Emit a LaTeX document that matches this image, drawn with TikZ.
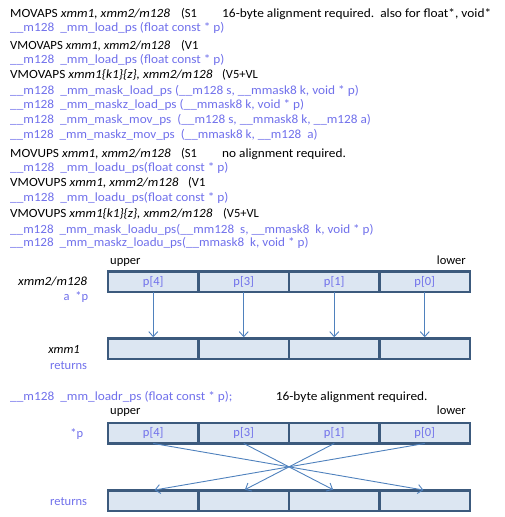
\documentclass[tikz,border=0pt]{standalone}
\usepackage{fontspec}
\usepackage{graphicx}
\setmainfont{Carlito}
\usetikzlibrary{arrows.meta}
\definecolor{codeblue}{RGB}{112,112,235}
\definecolor{cellline}{RGB}{60,90,125}
\definecolor{cellfill}{RGB}{220,230,242}
\definecolor{arrowblue}{RGB}{79,129,189}
\newcommand{\fw}[2]{\resizebox{#1pt}{\height}{#2}}
\begin{document}
\begin{tikzpicture}[x=1pt,y=-1pt,
  txt/.style={anchor=base west, inner sep=0, font=\fontsize{12.5}{14}\selectfont},
  code/.style={txt, text=codeblue},
  rtxt/.style={anchor=base east, inner sep=0, font=\fontsize{12.5}{14}\selectfont},
  rcode/.style={rtxt, text=codeblue},
  cell/.style={draw=cellline, fill=cellfill, line width=2.5pt, minimum width=90.5pt, minimum height=20.5pt, inner sep=0, outer sep=0, text=codeblue, font=\fontsize{12.5}{14}\selectfont},
  arr/.style={draw=arrowblue, line width=0.9pt, -{Straight Barb[length=5pt,width=9pt]}, shorten >=1.3pt}]
\useasboundingbox (0,0) rectangle (504,517);
% header text
\node[txt] (l1) at (10,17.3) {\fw{160}{MOVAPS \textit{xmm1, xmm2/m128}}};
\node[txt] (l1b) at (181,17.3) {(S1};
\node[txt] (l1c) at (222,17.3) {\fw{269}{16-byte alignment required.\ \ also for float*, void*}};
\node[code] (l2) at (10,31) {\fw{214.3}{\_\_m128\ \ \_mm\_load\_ps (float const * p)}};
\node[txt] (l3) at (10,49) {\fw{160}{VMOVAPS \textit{xmm1, xmm2/m128}}};
\node[txt] (l3b) at (181,49) {(V1};
\node[code] (l4) at (10,63.3) {\fw{214.3}{\_\_m128\ \ \_mm\_load\_ps (float const * p)}};
\node[txt] (l5) at (10,78.3) {\fw{202.3}{VMOVAPS \textit{xmm1\{k1\}\{z\}, xmm2/m128}}};
\node[txt] (l5b) at (222,78.3) {(V5+VL};
\node[code] (l6) at (10,94) {\fw{348.7}{\_\_m128\ \ \_mm\_mask\_load\_ps (\_\_m128 s, \_\_mmask8 k, void * p)}};
\node[code] (l7) at (10,108.3) {\fw{294}{\_\_m128\ \ \_mm\_maskz\_load\_ps (\_\_mmask8 k, void * p)}};
\node[code] (l8) at (10,123.3) {\fw{360.7}{\_\_m128\ \ \_mm\_mask\_mov\_ps\ \ (\_\_m128 s, \_\_mmask8 k, \_\_m128 a)}};
\node[code] (l9) at (10,138.3) {\fw{307.3}{\_\_m128\ \ \_mm\_maskz\_mov\_ps\ \ (\_\_mmask8 k, \_\_m128\ \ a)}};
\node[txt] (l10) at (10,157.3) {\fw{160.7}{MOVUPS \textit{xmm1, xmm2/m128}}};
\node[txt] (l10b) at (181,157.3) {(S1};
\node[txt] (l10c) at (222,157.3) {\fw{123.7}{no alignment required.}};
\node[code] (l11) at (10,171.7) {\fw{218.3}{\_\_m128\ \ \_mm\_loadu\_ps(float const * p)}};
\node[txt] (l12) at (10,186.7) {\fw{168.3}{VMOVUPS \textit{xmm1, xmm2/m128}}};
\node[txt] (l12b) at (188,186.7) {(V1};
\node[code] (l13) at (10,201) {\fw{218.3}{\_\_m128\ \ \_mm\_loadu\_ps(float const * p)}};
\node[txt] (l14) at (10,217.7) {\fw{202.3}{VMOVUPS \textit{xmm1\{k1\}\{z\}, xmm2/m128}}};
\node[txt] (l14b) at (223,217.7) {(V5+VL};
\node[code] (l15) at (10,233.3) {\fw{363.3}{\_\_m128\ \ \_mm\_mask\_loadu\_ps(\_\_mm128\ \ s, \_\_mmask8\ \ k, void * p)}};
\node[code] (l16) at (10,246.7) {\fw{298.3}{\_\_m128\ \ \_mm\_maskz\_loadu\_ps(\_\_mmask8\ \ k, void * p)}};
% diagram 1
\node[txt] (up1) at (110,264) {upper};
\node[rtxt] (lo1) at (466,264) {lower};
\node[rtxt] (xm2) at (87.3,285.7) {\fw{69}{\textit{xmm2/m128}}};
\node[rcode] (ap) at (88.3,300.7) {a\ \ *p};
\node[rtxt] (xm1) at (80,353.3) {\textit{xmm1}};
\node[rcode] (ret1) at (87.3,369.3) {returns};
\node[cell] (a1) at (153.25,281.75) {p[4]};
\node[cell] (a2) at (243.75,281.75) {p[3]};
\node[cell] (a3) at (334.25,281.75) {p[1]};
\node[cell] (a4) at (424.75,281.75) {p[0]};
\node[cell] (b1) at (153.25,348.8) {};
\node[cell] (b2) at (243.75,348.8) {};
\node[cell] (b3) at (334.25,348.8) {};
\node[cell] (b4) at (424.75,348.8) {};
\foreach \i in {1,...,4} \draw[arr] (a\i) -- (b\i);
% diagram 2
\node[code] (lr) at (10,400) {\fw{222.3}{\_\_m128\ \ \_mm\_loadr\_ps (float const * p);}};
\node[txt] (lrc) at (275.7,400) {\fw{151.6}{16-byte alignment required.}};
\node[txt] (up2) at (110,414.3) {upper};
\node[rtxt] (lo2) at (466,414.3) {lower};
\node[rcode] (sp) at (83.3,437.7) {*p};
\node[rcode] (ret2) at (87.3,505.7) {returns};
\node[cell] (e1) at (153.25,433.2) {p[4]};
\node[cell] (e2) at (243.75,433.2) {p[3]};
\node[cell] (e3) at (334.25,433.2) {p[1]};
\node[cell] (e4) at (424.75,433.2) {p[0]};
\node[cell] (f1) at (153.25,500.5) {};
\node[cell] (f2) at (243.75,500.5) {};
\node[cell] (f3) at (334.25,500.5) {};
\node[cell] (f4) at (424.75,500.5) {};
\draw[arr] (e1.south) -- (f4.north);
\draw[arr] (e2.south) -- (f3.north);
\draw[arr] (e3.south) -- (f2.north);
\draw[arr] (e4.south) -- (f1.north);
\end{tikzpicture}
\end{document}
